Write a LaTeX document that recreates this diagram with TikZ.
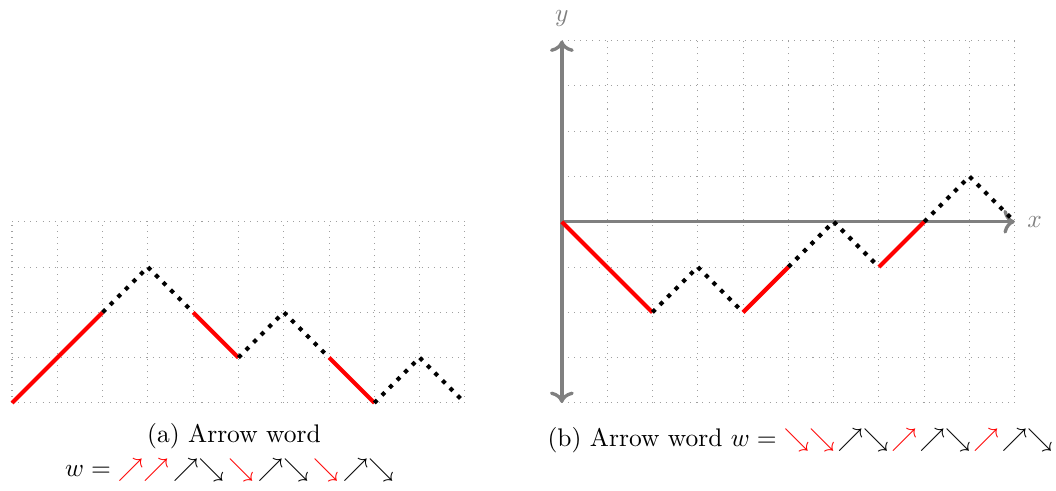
\documentclass[tikz,border=0pt]{standalone}
\usepackage{amsmath,amssymb}
\usepackage{xcolor}
\usepackage{tikz}
\usetikzlibrary{positioning,arrows.meta}
\newcommand{\upr}{\textcolor{red}{\nearrow}}
\newcommand{\dnr}{\textcolor{red}{\searrow}}
\newcommand{\gp}{\mkern-2mu}
\newcommand{\gpb}{\mkern-3mu}
\tikzset{
  gridlines/.style={gray!75, dotted, line width=0.4pt, step=0.625cm},
  redstep/.style={red, line width=1.6pt},
  dotstep/.style={black, line width=1.6pt, dash pattern=on 1.6pt off 2.6pt},
  axisline/.style={gray, line width=1.3pt},
  axislabel/.style={text=gray, inner sep=1pt},
  caption/.style={inner sep=1pt}
}
\begin{document}
\begin{tikzpicture}[x=0.625cm, y=0.625cm]
\useasboundingbox (-0.265,-1.943) rectangle (23.05,8.896);
% (a) arrow word path
\draw[gridlines] (0,0) grid (10,4);
\draw[redstep] (0,0) -- (2,2);
\draw[dotstep] (2,2) -- (3,3) -- (4,2);
\draw[redstep] (4,2) -- (5,1);
\draw[dotstep] (5,1) -- (6,2) -- (7,1);
\draw[redstep] (7,1) -- (8,0);
\draw[dotstep] (8,0) -- (9,1) -- (10,0);
\node[caption] (capa) at (4.9,-0.73) {(a) Arrow word};
\node[caption] (worda) at (4.8,-1.48) {$w = \upr\upr\gp\nearrow\searrow\gp\dnr\gp\nearrow\searrow\gp\dnr\gp\nearrow\searrow$};
% (b) same word with axes
\begin{scope}[shift={(12.14,4)}]
\draw[gridlines] (0,-4) grid (10,4);
\draw[axisline, <->] (0,-4) -- (0,4);
\draw[axisline, ->] (0,0) -- (10,0);
\node[axislabel] (ylab) at (0,4.48) {$y$};
\node[axislabel] (xlab) at (10.44,0) {$x$};
\draw[redstep] (0,0) -- (2,-2);
\draw[dotstep] (2,-2) -- (3,-1) -- (4,-2);
\draw[redstep] (4,-2) -- (5,-1);
\draw[dotstep] (5,-1) -- (6,0) -- (7,-1);
\draw[redstep] (7,-1) -- (8,0);
\draw[dotstep] (8,0) -- (9,1) -- (10,0);
\node[caption] (capb) at (5.26,-4.82) {(b) Arrow word $w = \dnr\dnr\gpb\nearrow\searrow\gpb\upr\gpb\nearrow\searrow\gpb\upr\gpb\nearrow\searrow$};
\end{scope}
\end{tikzpicture}
\end{document}
